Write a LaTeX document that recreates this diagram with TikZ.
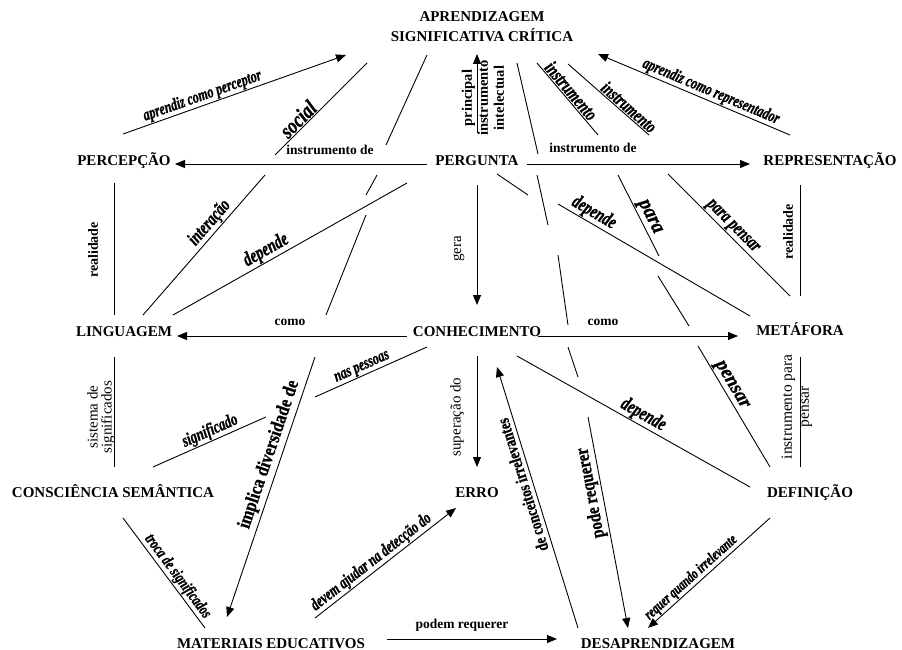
\documentclass[tikz,border=0pt]{standalone}
\usepackage{fontspec}
\setmainfont{Liberation Serif}
\newfontfamily\linkit{Liberation Serif Bold Italic}[FakeBold=1.2]
\newfontfamily\linkup{Liberation Serif Bold}[FakeBold=1]
\usepackage{graphicx}
\usetikzlibrary{arrows.meta}

% condensed link text: size, horizontal squeeze, text
\newcommand{\cond}[3]{\fontsize{#1}{#1}\selectfont\scalebox{#2}[1]{#3}}

\tikzset{
  concept/.style={font=\fontsize{15}{19.5}\selectfont\bfseries, anchor=base, inner sep=0pt},
  wire/.style={line width=0.9pt},
  arr/.style={wire, -{Triangle[length=10pt,width=8pt]}},
  rarr/.style={wire, {Triangle[length=10pt,width=8pt]}-},
  tag/.style={font=\fontsize{13.5}{13.5}\selectfont\bfseries, anchor=base, inner sep=0pt},
  vtag/.style={font=\fontsize{15}{15}\selectfont, rotate=90, inner sep=0pt, align=center},
  itag/.style={sloped, allow upside down, anchor=south, inner sep=1pt, font=\linkit},
  btag/.style={sloped, allow upside down, anchor=south, inner sep=3pt, font=\linkup},
}

\begin{document}
\begin{tikzpicture}[x=1pt,y=-1pt]
\fill[white] (0,0) rectangle (902,650);
\useasboundingbox (0,0) rectangle (902,650);

% concepts
\node[concept, align=center, anchor=center] (asc) at (482,26.5) {APRENDIZAGEM\\SIGNIFICATIVA CRÍTICA};
\node[concept] (perc) at (124,165) {PERCEPÇÃO};
\node[concept] (perg) at (477,165) {PERGUNTA};
\node[concept] (repr) at (830,165) {REPRESENTAÇÃO};
\node[concept] (ling) at (124,336) {LINGUAGEM};
\node[concept] (conh) at (477,336) {CONHECIMENTO};
\node[concept] (meta) at (800,335) {METÁFORA};
\node[concept] (cons) at (113,497) {CONSCIÊNCIA SEMÂNTICA};
\node[concept] (erro) at (477,497) {ERRO};
\node[concept] (defi) at (810,497) {DEFINIÇÃO};
\node[concept] (mate) at (271,648) {MATERIAIS EDUCATIVOS};
\node[concept] (desa) at (658,648) {DESAPRENDIZAGEM};

% link end points
\coordinate (percUp) at (123,134);   \coordinate (ascL) at (346,55);
\coordinate (ascR) at (598,54);      \coordinate (reprUp) at (790,135);
\coordinate (socA) at (275,155);     \coordinate (socB) at (367,63);
\coordinate (impA) at (386,145);     \coordinate (impB) at (427,55);
\coordinate (pergUp) at (477,133);   \coordinate (ascB) at (477,54);
\coordinate (desA) at (538,154);     \coordinate (desB) at (517,63);
\coordinate (insA) at (537,63);      \coordinate (insB) at (598,135);
\coordinate (insC) at (568,64);      \coordinate (insD) at (649,135);
\coordinate (pergL) at (427,164);    \coordinate (percR) at (175,164);
\coordinate (pergR) at (527,164);    \coordinate (reprL) at (750,164);
% middle band
\coordinate (realA) at (114,183);    \coordinate (realB) at (114,315);
\coordinate (intA) at (143,315);     \coordinate (intB) at (265,175);
\coordinate (impC) at (377,175);     \coordinate (impD) at (366,195);
\coordinate (impE) at (366,215);     \coordinate (impF) at (326,315);
\coordinate (depA) at (173,315);     \coordinate (depB) at (407,183);
\coordinate (pergDn) at (477,185);   \coordinate (conhUp) at (477,305);
\coordinate (depC) at (497,174);     \coordinate (depD) at (528,195);
\coordinate (desC) at (537,175);     \coordinate (desD) at (548,225);
\coordinate (desE) at (558,255);     \coordinate (desF) at (568,325);
\coordinate (depE) at (558,204);     \coordinate (depF) at (750,316);
\coordinate (parA) at (618,175);     \coordinate (parB) at (659,256);
\coordinate (parC) at (658,276);     \coordinate (parD) at (689,326);
\coordinate (ppA) at (668,174);      \coordinate (ppB) at (790,296);
\coordinate (realC) at (800,185);    \coordinate (realD) at (800,296);
\coordinate (conhL) at (407,336);    \coordinate (lingR) at (177,336);
\coordinate (conhR) at (538,336);    \coordinate (metaL) at (738,336);
% lower band
\coordinate (sisA) at (114,357);     \coordinate (sisB) at (114,467);
\coordinate (nasA) at (315,397);     \coordinate (nasB) at (427,347);
\coordinate (sigA) at (153,467);     \coordinate (sigB) at (266,417);
\coordinate (mateUp) at (227,617);   \coordinate (impG) at (315,357);
\coordinate (troA) at (123,518);     \coordinate (troB) at (205,628);
\coordinate (mateR) at (315,618);    \coordinate (erroL) at (456,508);
\coordinate (conhDn) at (477,356);   \coordinate (erroUp) at (477,467);
\coordinate (desaL) at (578,628);    \coordinate (conhB) at (497,367);
\coordinate (desG) at (568,347);     \coordinate (desH) at (578,377);
\coordinate (desaT) at (628,628);    \coordinate (desI) at (588,417);
\coordinate (depG) at (517,356);     \coordinate (depH) at (750,487);
\coordinate (penA) at (698,346);     \coordinate (penB) at (770,467);
\coordinate (ippA) at (800,357);     \coordinate (ippB) at (800,467);
\coordinate (desaR) at (648,628);    \coordinate (defiDn) at (770,518);
\coordinate (mateE) at (387,639);    \coordinate (desaW) at (557,639);

% top band links
\draw[arr] (percUp) -- node[itag,pos=.37]{\cond{17}{.72}{aprendiz como perceptor}} (ascL);
\draw[rarr] (ascR) -- node[itag,pos=.57]{\cond{17}{.72}{aprendiz como representador}} (reprUp);
\draw[wire] (socA) -- node[itag,pos=.32]{\cond{22}{.8}{social}} (socB);
\draw[wire] (impA) -- (impB);
\draw[arr] (pergUp) -- (ascB);
\node[vtag, font=\fontsize{14.5}{16}\selectfont\bfseries] (lblPI) at (483,98) {principal\\instrumento\\intelectual};
\draw[wire] (desA) -- (desB);
\draw[wire] (insA) -- node[itag,pos=.46]{\cond{19.5}{.72}{instrumento}} (insB);
\draw[wire] (insC) -- node[itag,pos=.69]{\cond{18.6}{.72}{instrumento}} (insD);
\draw[arr] (pergL) -- (percR);
\node[tag] (lblID1) at (330,154) {instrumento de};
\draw[arr] (pergR) -- (reprL);
\node[tag] (lblID2) at (593,153) {instrumento de};

% middle band links
\draw[wire] (realA) -- (realB);
\node[vtag, font=\fontsize{14}{14}\selectfont\bfseries] (lblR1) at (93,250) {realidade};
\draw[wire] (intA) -- node[itag,pos=.61]{\cond{19.3}{.72}{interação}} (intB);
\draw[wire] (impC) -- (impD);
\draw[wire] (impE) -- (impF);
\draw[wire] (depA) -- node[itag,pos=.42]{\cond{20}{.72}{depende}} (depB);
\draw[arr] (pergDn) -- (conhUp);
\node[vtag] (lblG) at (459,249) {gera};
\draw[wire] (depC) -- (depD);
\draw[wire] (desC) -- (desD);
\draw[wire] (desE) -- (desF);
\draw[wire] (depE) -- node[itag,pos=.16]{\cond{19.7}{.72}{depende}} (depF);
\draw[wire] (parA) -- node[itag,pos=.57]{\cond{21}{.9}{para}} (parB);
\draw[wire] (parC) -- (parD);
\draw[wire] (ppA) -- node[itag,pos=.48]{\cond{19.2}{.72}{para pensar}} (ppB);
\draw[wire] (realC) -- (realD);
\node[vtag, font=\fontsize{14}{14}\selectfont\bfseries] (lblR2) at (788,232) {realidade};
\draw[arr] (conhL) -- (lingR);
\node[tag] (lblC1) at (290,325) {como};
\draw[arr] (conhR) -- (metaL);
\node[tag] (lblC2) at (603,325) {como};

% lower band links
\draw[wire] (sisA) -- (sisB);
\node[vtag, font=\fontsize{15}{14}\selectfont] (lblSS) at (101,417) {sistema de\\significados};
\draw[wire] (nasA) -- node[itag,pos=.45]{\cond{17}{.72}{nas pessoas}} (nasB);
\draw[wire] (sigA) -- node[itag,pos=.54]{\cond{18}{.72}{significado}} (sigB);
\draw[rarr] (mateUp) -- node[btag,pos=.61]{\cond{19}{.85}{implica diversidade de}} (impG);
\draw[wire] (troA) -- node[itag,pos=.58]{\cond{16.4}{.72}{troca de significados}} (troB);
\draw[arr] (mateR) -- node[itag,pos=.44]{\cond{17.2}{.72}{devem ajudar na detecção do}} (erroL);
\draw[arr] (conhDn) -- (erroUp);
\node[vtag] (lblSD) at (457,417) {superação do};
\draw[arr] (desaL) -- node[btag,pos=.56,inner sep=4pt]{\cond{17}{.78}{de conceitos irrelevantes}} (conhB);
\draw[wire] (desG) -- (desH);
\draw[rarr] (desaT) -- node[btag,pos=.65,inner sep=2pt]{\cond{18.9}{.8}{pode requerer}} (desI);
\draw[wire] (depG) -- node[itag,pos=.52]{\cond{20}{.72}{depende}} (depH);
\draw[wire] (penA) -- node[itag,pos=.36]{\cond{20}{.95}{pensar}} (penB);
\draw[wire] (ippA) -- (ippB);
\node[vtag, font=\fontsize{15.5}{17}\selectfont] (lblIP) at (797,407) {instrumento para\\pensar};
\draw[rarr] (desaR) -- node[itag,pos=.40]{\cond{15.3}{.72}{requer quando irrelevante}} (defiDn);
\draw[arr] (mateE) -- (desaW);
\node[tag] (lblPR) at (462,628) {podem requerer};
\end{tikzpicture}
\end{document}
